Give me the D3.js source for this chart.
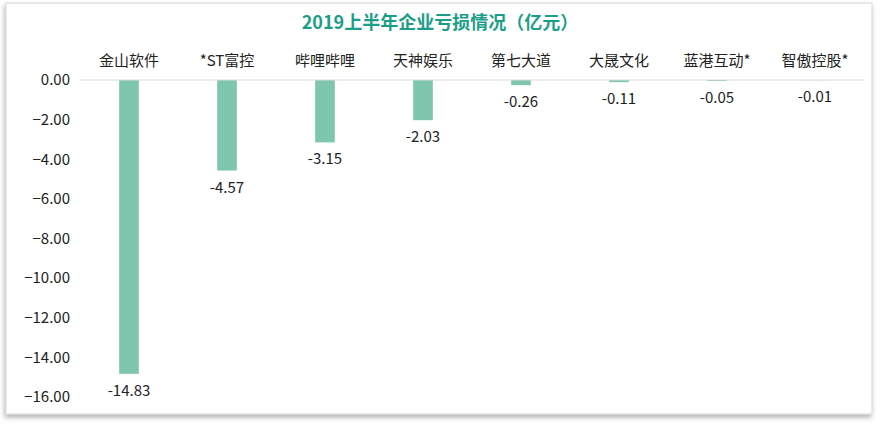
<!DOCTYPE html>
<html><head><meta charset="utf-8">
<script src="https://cdn.jsdelivr.net/npm/d3@7"></script>
<style>body{margin:0;background:#fff;}svg{display:block;font-family:"Noto Sans CJK SC","Noto Sans",sans-serif;}</style>
</head><body>
<svg id="c" width="880" height="425"></svg>
<script>
const categories = ["金山软件","*ST富控","哔哩哔哩","天神娱乐","第七大道","大晟文化","蓝港互动*","智傲控股*"];
const values = [-14.83,-4.57,-3.15,-2.03,-0.26,-0.11,-0.05,-0.01];
const yTicks = [0,-2,-4,-6,-8,-10,-12,-14,-16];
const title = "2019上半年企业亏损情况（亿元）";

const svg = d3.select("#c");
const defs = svg.append("defs");
const f = defs.append("filter").attr("id","sh").attr("x","-5%").attr("y","-5%").attr("width","110%").attr("height","115%");
f.append("feDropShadow").attr("dx",-1).attr("dy",3).attr("stdDeviation",2.5).attr("flood-color","#000").attr("flood-opacity",0.3);
svg.append("rect").attr("x",6).attr("y",3).attr("width",866).attr("height",411)
  .attr("fill","#fff").attr("stroke","#d6d6d6").attr("stroke-width",1).attr("filter","url(#sh)");

const x = d3.scaleBand().domain(categories).range([80,864]).paddingInner(0.8).paddingOuter(0.4);
const y = d3.scaleLinear().domain([-16,0]).range([397,80]);

svg.append("text").attr("x",440).attr("y",29).attr("text-anchor","middle")
  .attr("font-size",18).attr("font-weight","bold").attr("fill","#1b9e88").text(title);

const ya = svg.append("g").attr("transform","translate(70,0)")
  .call(d3.axisLeft(y).tickValues(yTicks).tickFormat(d3.format(".2f")).tickSize(0).tickPadding(0));
ya.select(".domain").remove();
ya.selectAll("text").attr("font-size",15).attr("fill","#222").attr("font-family","'Noto Sans CJK SC',sans-serif");

svg.selectAll(".bar").data(values).join("rect").attr("class","bar")
  .attr("x",(d,i)=>x(categories[i])).attr("width",x.bandwidth())
  .attr("y",y(0)).attr("height",d=>y(d)-y(0)).attr("fill","#7ec6ad");

svg.append("line").attr("x1",80).attr("x2",864).attr("y1",y(0)).attr("y2",y(0)).attr("stroke","#d9d9d9").attr("stroke-width",1);

const xa = svg.append("g").attr("transform","translate(0,66)")
  .call(d3.axisTop(d3.scaleBand().domain(categories).range([80,864])).tickSize(0).tickPadding(0));
xa.select(".domain").remove();
xa.selectAll("text").attr("font-size",15).attr("fill","#222").attr("font-family","'Noto Sans CJK SC',sans-serif");

svg.selectAll(".lbl").data(values).join("text").attr("class","lbl")
  .attr("x",(d,i)=>x(categories[i])+x.bandwidth()/2).attr("y",d=>y(d)+22)
  .attr("text-anchor","middle").attr("font-size",15).attr("fill","#222").text(d=>d.toFixed(2));
</script>
</body></html>
